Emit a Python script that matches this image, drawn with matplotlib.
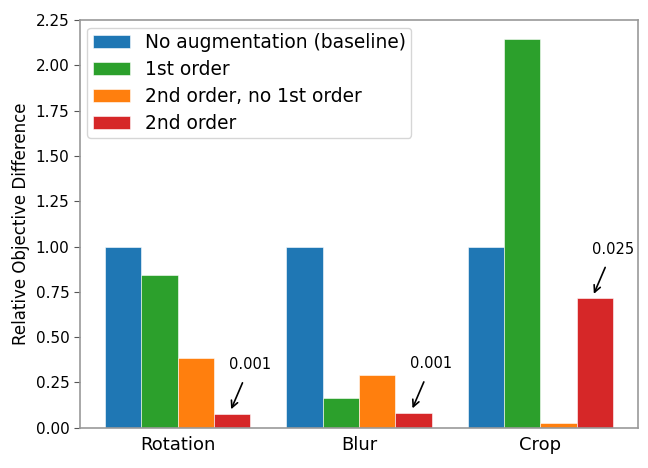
import matplotlib.pyplot as plt
import numpy as np

categories = ['Rotation', 'Blur', 'Crop']
series_names = ['No augmentation (baseline)', '1st order',
                '2nd order, no 1st order', '2nd order']
baseline = [1.0, 1.0, 1.0]
first_order = [0.845, 0.165, 2.144]
second_no_first = [0.383, 0.292, 0.027]
second_order = [0.077, 0.082, 0.714]
annot_labels = ['0.001', '0.001', '0.025']

colors = ['#1f77b4', '#2ca02c', '#ff7f0e', '#d62728']
series = [baseline, first_order, second_no_first, second_order]

fig = plt.figure(figsize=(6.48, 4.68), dpi=100)
ax = fig.add_axes([0.123, 0.086, 0.862, 0.871])

x = np.arange(len(categories))
w = 0.2
for i, (vals, name) in enumerate(zip(series, series_names)):
    ax.bar(x + (i - 1.5) * w, vals, w, color=colors[i], label=name,
           edgecolor='white', linewidth=0.4)

# arrows pointing at the 2nd order bars
for xi, v, lab in zip(x, second_order, annot_labels):
    bx = xi + 1.5 * w
    ax.annotate(lab, xy=(bx - 0.005, v + 0.025), xytext=(bx + 0.1, v + 0.27),
                ha='center', va='center', fontsize=10.5,
                arrowprops=dict(arrowstyle='->', color='black', lw=1.2,
                                mutation_scale=12, shrinkA=6, shrinkB=0))

ax.set_ylim(0, 2.25)
ax.set_yticks(np.arange(0, 2.26, 0.25))
ax.set_yticklabels(['%.2f' % t for t in np.arange(0, 2.26, 0.25)], fontsize=11)
ax.set_xticks(x)
ax.set_xticklabels(categories, fontsize=13)
ax.tick_params(axis='x', length=0, pad=6)
ax.tick_params(axis='y', color='#555555', length=4)
ax.set_ylabel('Relative Objective Difference', fontsize=12)

for s in ax.spines.values():
    s.set_color('#999999')
    s.set_linewidth(1.2)

leg = ax.legend(loc='upper left', fontsize=13.4, handlelength=2.0,
                borderpad=0.3, labelspacing=0.42, handletextpad=0.8,
                borderaxespad=0.4)
leg.get_frame().set_edgecolor('#cccccc')

fig.savefig('out.png', dpi=100)
